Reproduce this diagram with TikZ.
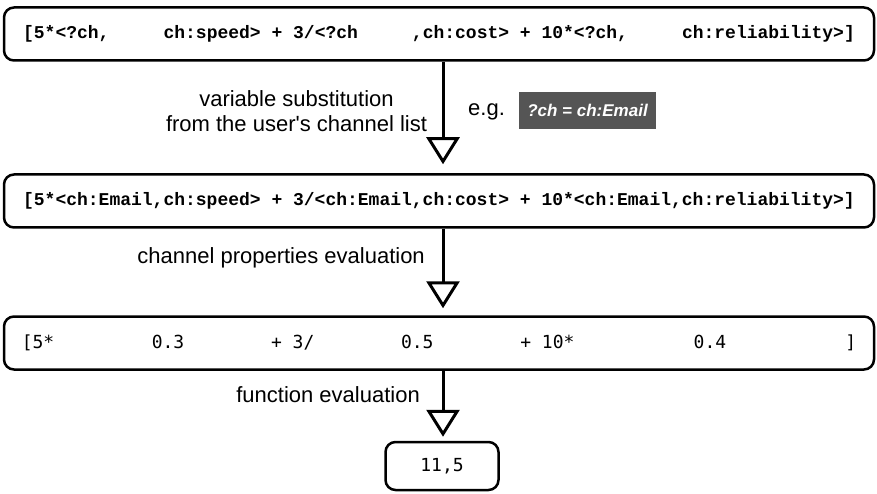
\documentclass[tikz,border=0pt]{standalone}
\usepackage{fontspec}
\setmainfont{Liberation Sans}
\newfontfamily\codebold{Liberation Mono}[BoldFont={* Bold}]
\newfontfamily\codeplain{DejaVu Sans Mono}
\usetikzlibrary{arrows.meta}

\definecolor{tagfill}{HTML}{555555}

\tikzset{
  exprbox/.style={draw=black, line width=2.5pt, rounded corners=10pt,
    minimum width=870pt, minimum height=53pt, inner sep=0pt},
  resultbox/.style={draw=black, line width=2.5pt, rounded corners=10pt,
    minimum width=113pt, minimum height=48pt, inner sep=0pt},
  boldcode/.style={font=\codebold\bfseries\fontsize{18}{20}\selectfont},
  plaincode/.style={font=\codeplain\fontsize{18}{20}\selectfont},
  caption/.style={font=\fontsize{22}{25}\selectfont, inner sep=0pt},
  tag/.style={fill=tagfill, text=white, minimum width=137pt, minimum height=37pt,
    inner sep=0pt, font=\bfseries\itshape\fontsize{17}{20}\selectfont},
  flow/.style={line width=3pt,
    -{Triangle[open, length=27pt, width=33pt, fill=white]}}
}

\begin{document}
\begin{tikzpicture}[x=1pt, y=-1pt]
  \path[use as bounding box] (0,0) rectangle (877,494);

  % expression stages
  \node[exprbox, boldcode] (b1) at (439,34)
    {[5*<?ch,~~~~~ch:speed>~+~3/<?ch~~~~~,ch:cost>~+~10*<?ch,~~~~~ch:reliability>]};
  \node[exprbox, boldcode] (b2) at (439,201)
    {[5*<ch:Email,ch:speed>~+~3/<ch:Email,ch:cost>~+~10*<ch:Email,ch:reliability>]};
  \node[exprbox, plaincode] (b3) at (439,343)
    {[5*~~~~~~~~~0.3~~~~~~~~+~3/~~~~~~~~0.5~~~~~~~~+~10*~~~~~~~~~~~0.4~~~~~~~~~~~]};
  \node[resultbox, plaincode] (b4) at (442,466) {11,5};

  % arrow axis
  \coordinate (ax) at (443,0);

  % transformation arrows
  \draw[flow, shorten >=9pt] (b1.south -| ax) -- (b2.north -| ax);
  \draw[flow, shorten >=7pt] (b2.south -| ax) -- (b3.north -| ax);
  \draw[flow, shorten >=4pt] (b3.south -| ax) -- (b4.north -| ax);

  % step captions
  \node[caption, align=center] (l1) at (296.5,111)
    {variable substitution\\[0pt]from the user\textquotesingle s channel list};
  \node[caption, anchor=west] (eg) at (468,112) {e.g.};
  \node[tag] (ex) at (587.5,110.5) {?ch = ch:Email};
  \node[caption, anchor=east] (l2) at (425,258) {channel properties evaluation};
  \node[caption, anchor=east] (l3) at (420,395) {function evaluation};
\end{tikzpicture}
\end{document}
